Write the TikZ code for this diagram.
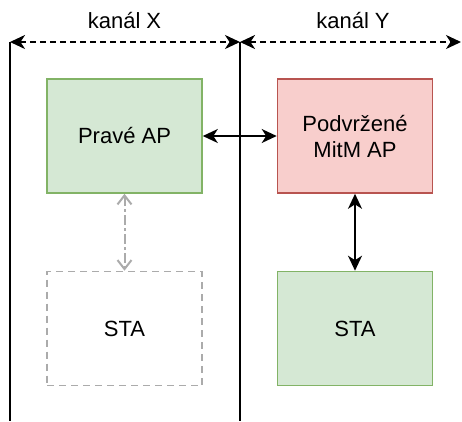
\documentclass[tikz,border=0pt]{standalone}
\usepackage{fontspec}
\setmainfont{Liberation Sans}
\usetikzlibrary{arrows.meta}
\definecolor{okfill}{HTML}{D5E8D4}
\definecolor{okline}{HTML}{82B366}
\definecolor{badfill}{HTML}{F8CECC}
\definecolor{badline}{HTML}{B85450}
\definecolor{ghost}{HTML}{ABABAB}
\tikzset{
  box/.style={rectangle, minimum width=155pt, minimum height=114pt, inner sep=0pt,
    line width=1.6pt, align=center, font=\fontsize{22}{26}\selectfont},
  okbox/.style={box, fill=okfill, draw=okline},
  badbox/.style={box, fill=badfill, draw=badline},
  ghostbox/.style={box, draw=ghost, dash pattern=on 7pt off 5pt},
  link/.style={line width=2pt, {Stealth[length=15pt,width=14pt,inset=4.5pt]}-{Stealth[length=15pt,width=14pt,inset=4.5pt]}},
  ghostlink/.style={line width=2pt, draw=ghost, dash pattern=on 10pt off 3pt on 3pt off 3pt,
    {Straight Barb[length=9pt,width=14pt]}-{Straight Barb[length=9pt,width=14pt]}},
  span/.style={line width=2pt, dash pattern=on 6pt off 4pt,
    {Stealth[length=15pt,width=14pt,inset=4.5pt]}-{Stealth[length=15pt,width=14pt,inset=4.5pt]}},
  wall/.style={line width=2pt},
  label/.style={font=\fontsize{22}{26}\selectfont, inner sep=0pt}
}
\begin{document}
\begin{tikzpicture}[x=1pt,y=-1pt]
\useasboundingbox (0,0) rectangle (462,421);

% channel boundaries
\coordinate (tl) at (10,42);
\coordinate (tm) at (240,42);
\coordinate (tr) at (461,42);
\coordinate (bl) at (10,421);
\coordinate (bm) at (240,421);
\draw[wall] (tl) -- (bl);
\draw[wall] (tm) -- (bm);

% channel extents
\draw[span] (tl) -- (tm);
\draw[span] (tm) -- (tr);
\node[label] (chx) at (124.5,21) {kanál X};
\node[label] (chy) at (353,21) {kanál Y};

% access points and stations
\node[okbox]    (ap)    at (124.5,136) {Pravé AP};
\node[badbox]   (mitm)  at (355,136)   {Podvržené\\MitM AP};
\node[ghostbox] (sta1)  at (124.5,328.5) {STA};
\node[okbox]    (sta2)  at (355,328.5) {STA};

% associations
\draw[link] (ap.east) -- (mitm.west);
\draw[link] (mitm.south) -- (sta2.north);
\draw[ghostlink] (ap.south) -- (sta1.north);
\end{tikzpicture}
\end{document}
